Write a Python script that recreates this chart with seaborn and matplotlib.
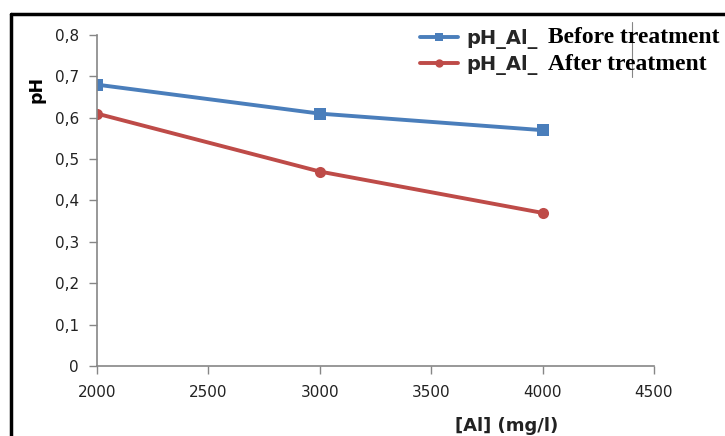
import pandas as pd
import matplotlib.pyplot as plt
import seaborn as sns
from matplotlib.lines import Line2D

# data
al_conc = [2000, 3000, 4000]
ph_before = [0.68, 0.61, 0.57]
ph_after = [0.61, 0.47, 0.37]
series_prefix = "pH_Al_"
series_suffix = ["Before treatment", "After treatment"]
series_names = [series_prefix + " " + s for s in series_suffix]

df = pd.DataFrame({
    "Al": al_conc * 2,
    "pH": ph_before + ph_after,
    "series": [series_names[0]] * 3 + [series_names[1]] * 3,
})

sns.set_style("white")
plt.rcParams["font.family"] = ["DejaVu Sans"]

blue = "#4A7EBB"
red = "#BE4B48"
grey = "#868686"

fig = plt.figure(figsize=(7.25, 4.36), dpi=100)
ax = fig.add_axes([0.1338, 0.1606, 0.7682, 0.7591])

sns.lineplot(data=df, x="Al", y="pH", hue="series", style="series",
             palette=[blue, red], markers=["s", "o"], dashes=False,
             linewidth=2.8, markersize=8, markeredgewidth=0, ax=ax, legend=False)

ax.set_xlim(2000, 4500)
ax.set_ylim(0, 0.8)
ax.set_xticks([2000, 2500, 3000, 3500, 4000, 4500])
ax.set_yticks([0, 0.1, 0.2, 0.3, 0.4, 0.5, 0.6, 0.7, 0.8])
ax.set_yticklabels(["0", "0,1", "0,2", "0,3", "0,4", "0,5", "0,6", "0,7", "0,8"])

for side in ["top", "right"]:
    ax.spines[side].set_visible(False)
for side in ["left", "bottom"]:
    ax.spines[side].set_color(grey)
    ax.spines[side].set_linewidth(1.2)
ax.tick_params(axis="both", direction="out", length=6, width=1, color=grey,
               labelsize=11, labelcolor="#222222", left=True, bottom=True)
ax.tick_params(axis="x", pad=8)
ax.tick_params(axis="y", pad=7)

ax.set_xlabel("[Al] (mg/l)", fontsize=13, fontweight="bold", color="#222222")
ax.xaxis.set_label_coords(0.735, -0.155)
ax.set_ylabel("pH", fontsize=12.5, fontweight="bold", color="black")
ax.yaxis.set_label_coords(-0.092, 0.835)

# legend: sans prefix from the legend, serif bold suffix as separate text
handles = [
    Line2D([], [], color=blue, marker="s", linewidth=2.8, markersize=6, markeredgewidth=0),
    Line2D([], [], color=red, marker="o", linewidth=2.8, markersize=6, markeredgewidth=0),
]
fig.legend(handles, [series_prefix, series_prefix], loc="upper left",
           bbox_to_anchor=(0.568, 0.951), frameon=False, handlelength=2.0,
           handletextpad=0.4, labelspacing=0.28, borderaxespad=0.0,
           prop={"weight": "bold", "size": 14})
for suffix, ypos in zip(series_suffix, [0.915, 0.852]):
    fig.text(0.756, ypos, suffix, family="Liberation Serif", weight="bold",
             size=17, va="center", ha="left", color="black")

# outer chart frame
fig.add_artist(Line2D([0.015, 0.015], [0.0, 0.968], color="black", linewidth=2.5,
                      transform=fig.transFigure))
fig.add_artist(Line2D([0.015, 1.0], [0.968, 0.968], color="black", linewidth=2.5,
                      transform=fig.transFigure))
# cursor artifact
fig.add_artist(Line2D([0.872, 0.872], [0.823, 0.95], color=grey, linewidth=0.8,
                      transform=fig.transFigure))

fig.savefig("out.png", dpi=100)
